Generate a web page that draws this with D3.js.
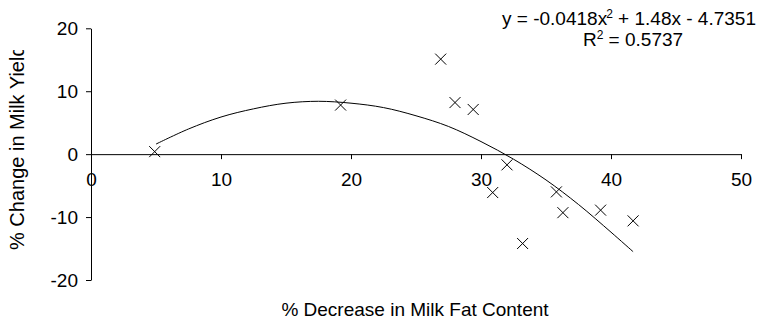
<!DOCTYPE html>
<html>
<head>
<meta charset="utf-8">
<script src="https://cdn.jsdelivr.net/npm/d3@7"></script>
<style>
  body { margin: 0; background: #fff; }
  text { font-family: "Liberation Sans", Arial, sans-serif; fill: #000; }
</style>
</head>
<body>
<div id="graph"></div>
<script>
// Globals
var fatDecrease = [4.9, 19.2, 26.9, 28.0, 29.4, 30.9, 32.0, 33.2, 35.8, 36.3, 39.2, 41.7];
var yieldChange = [0.4, 7.8, 15.1, 8.2, 7.1, -6.1, -1.7, -14.2, -6.0, -9.3, -8.9, -10.6];

// trendline
var trendX = [5, 7.5, 10, 12.5, 15, 17.5, 20, 22.5, 25, 27.5, 30, 32.5, 35, 37.5, 40, 41.7];
var trendY = [1.6, 4.0, 5.9, 7.2, 8.1, 8.4, 8.1, 7.4, 6.1, 4.4, 2.0, -0.8, -4.1, -8.0, -12.4, -15.5];

var xTicks = [0, 10, 20, 30, 40, 50];
var yTicks = [-20, -10, 0, 10, 20];

var eqLine1 = "y = -0.0418x";
var eqLine1b = " + 1.48x - 4.7351";
var eqLine2 = "R";
var eqLine2b = " = 0.5737";

function fmt(d){
  // plain hyphen like the original, not the unicode minus
  return String(d);
}

function displayGraph(){
  var width = 772, height = 323;
  var fs = 19;

  var svg = d3.select("#graph")
    .append("svg")
      .attr("width", width)
      .attr("height", height);

  var x = d3.scaleLinear().domain([0, 50]).range([91, 741]);
  var y = d3.scaleLinear().domain([-20, 20]).range([280, 28.3]);

  // y axis at x = 0
  var yAxis = svg.append("g")
    .attr("transform", "translate(" + x(0) + ",0)")
    .call(d3.axisLeft(y).tickValues(yTicks).tickFormat(fmt).tickSize(5).tickPadding(8).tickSizeOuter(0));

  // x axis through y = 0, labels below
  var xAxis = svg.append("g")
    .attr("transform", "translate(0," + y(0) + ")")
    .call(d3.axisBottom(x).tickValues(xTicks).tickFormat(fmt).tickSize(5).tickPadding(13).tickSizeOuter(0));

  [xAxis, yAxis].forEach(function(ax){
    ax.select(".domain").attr("stroke", "#000").attr("stroke-width", 1);
    ax.selectAll(".tick line").attr("stroke", "#000");
    ax.selectAll(".tick text")
      .attr("fill", "#000")
      .style("font-size", fs + "px")
      .style("font-family", "'Liberation Sans', Arial, sans-serif");
  });

  // trendline
  var trend = trendX.map(function(d, i){ return {x: d, y: trendY[i]}; });
  svg.append("path")
    .datum(trend)
    .attr("fill", "none")
    .attr("stroke", "#000")
    .attr("stroke-width", 1)
    .attr("d", d3.line()
      .x(function(d){ return x(d.x); })
      .y(function(d){ return y(d.y); })
      .curve(d3.curveCatmullRom));

  // x markers
  var pts = fatDecrease.map(function(d, i){ return {x: d, y: yieldChange[i]}; });
  var r = 5.5;
  svg.append("g")
    .selectAll("path")
    .data(pts)
    .enter()
    .append("path")
      .attr("fill", "none")
      .attr("stroke", "#000")
      .attr("stroke-width", 1)
      .attr("d", function(d){
        var cx = x(d.x), cy = y(d.y);
        return "M" + (cx - r) + "," + (cy - r) + "L" + (cx + r) + "," + (cy + r) +
               "M" + (cx - r) + "," + (cy + r) + "L" + (cx + r) + "," + (cy - r);
      });

  // axis titles
  svg.append("text")
    .attr("x", 415)
    .attr("y", 316)
    .attr("text-anchor", "middle")
    .style("font-size", fs + "px")
    .text("% Decrease in Milk Fat Content");

  svg.append("clipPath")
    .attr("id", "ytitle-clip")
    .append("rect")
      .attr("x", 0).attr("y", 50).attr("width", 60).attr("height", 273);

  svg.append("g")
    .attr("clip-path", "url(#ytitle-clip)")
    .append("text")
      .attr("transform", "translate(24,250) rotate(-90)")
      .attr("text-anchor", "start")
      .style("font-size", "20px")
      .text("% Change in Milk Yield");

  // trendline equation
  var eq = svg.append("text")
    .attr("x", 629)
    .attr("y", 25)
    .attr("text-anchor", "middle")
    .style("font-size", fs + "px");
  eq.append("tspan").text(eqLine1);
  eq.append("tspan").attr("dy", -7).style("font-size", "12px").attr("dx", -1).text("2");
  eq.append("tspan").attr("dy", 7).text(eqLine1b);

  var r2 = svg.append("text")
    .attr("x", 633)
    .attr("y", 46)
    .attr("text-anchor", "middle")
    .style("font-size", fs + "px");
  r2.append("tspan").text(eqLine2);
  r2.append("tspan").attr("dy", -7).style("font-size", "12px").text("2");
  r2.append("tspan").attr("dy", 7).text(eqLine2b);
}

displayGraph();
</script>
</body>
</html>
